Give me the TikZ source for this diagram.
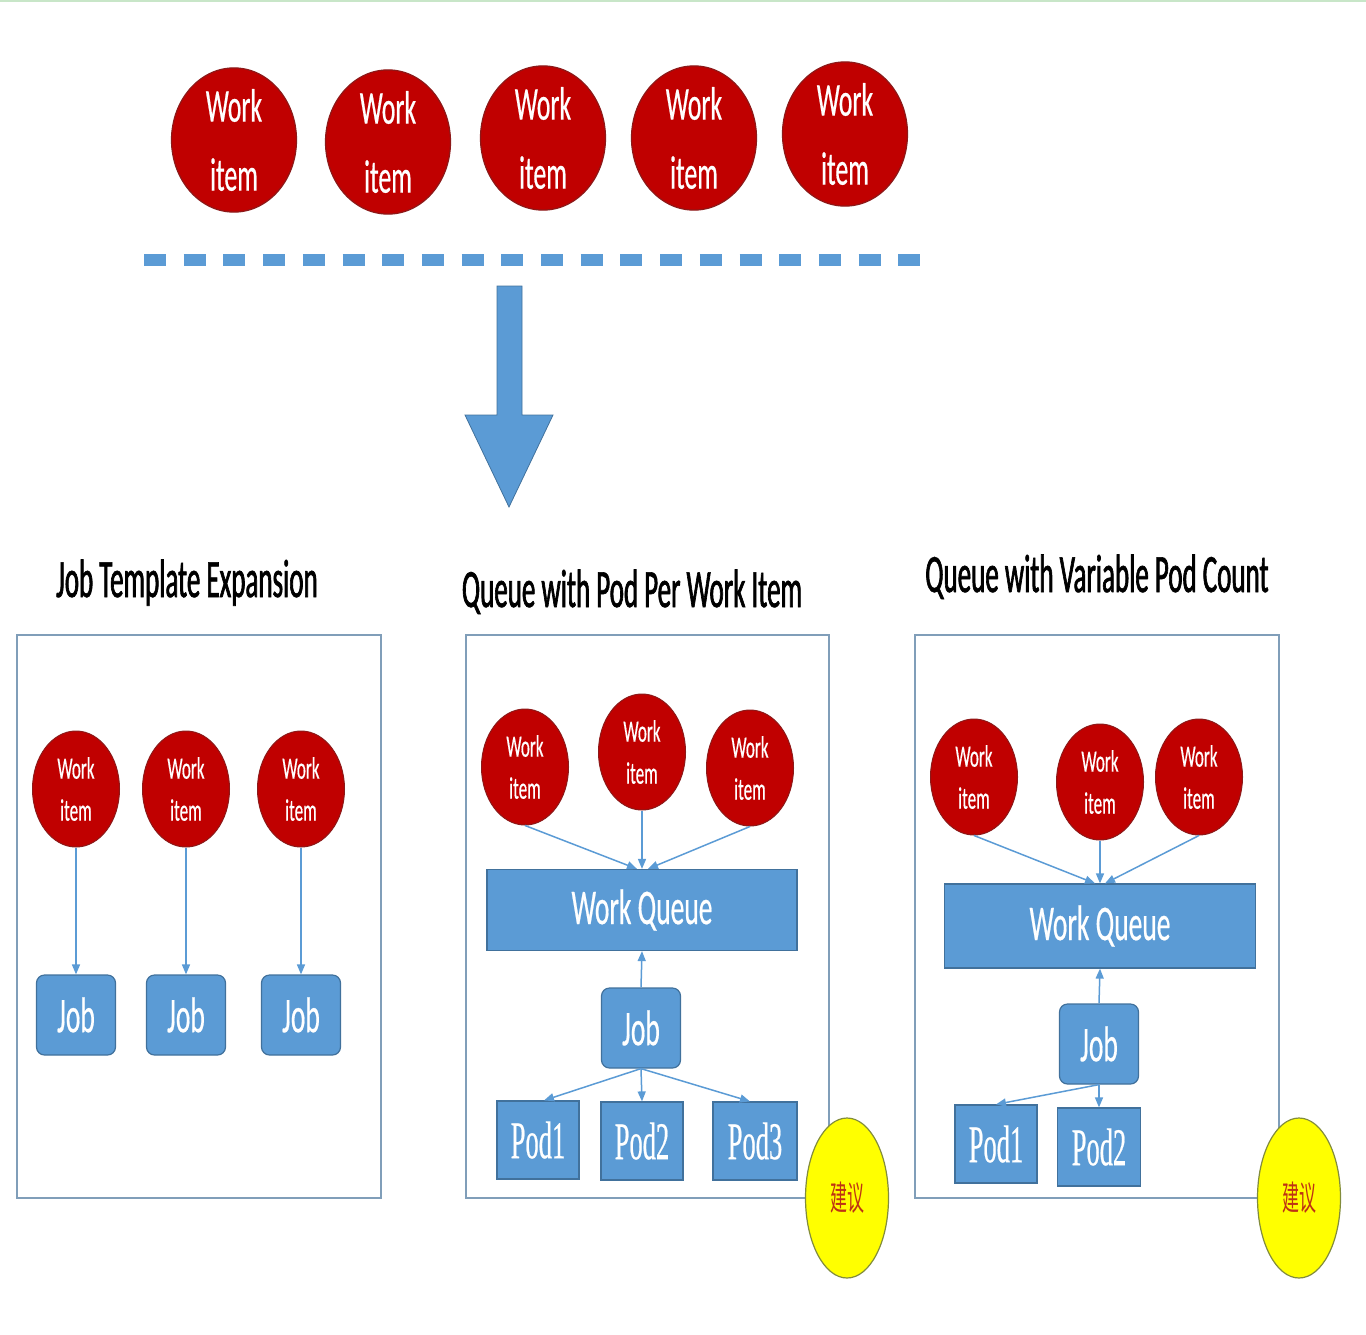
\documentclass[tikz,border=0pt]{standalone}
\usepackage{fontspec}
\setmainfont{Carlito}[FakeStretch=0.5]
\newfontfamily\titlefont{Carlito}[FakeStretch=0.5, FakeBold=1.2]
\newfontfamily\itemfont{Carlito}[FakeStretch=0.55, FakeBold=0.4]
\newfontfamily\podfont{Liberation Serif}[FakeStretch=0.5, FakeBold=0.4]
\newfontfamily\cjk{Noto Sans CJK SC}[FakeStretch=0.5]
\usetikzlibrary{shapes.geometric,arrows.meta}
\definecolor{itemred}{RGB}{192,0,0}
\definecolor{itemedge}{RGB}{140,25,25}
\definecolor{boxblue}{RGB}{91,155,213}
\definecolor{boxedge}{RGB}{65,113,156}
\definecolor{panelgray}{RGB}{128,158,185}
\definecolor{tipyellow}{RGB}{255,255,0}
\definecolor{tipedge}{RGB}{130,140,60}
\definecolor{tipred}{RGB}{190,50,20}
\definecolor{topgreen}{RGB}{200,230,200}
\begin{document}
\begin{tikzpicture}[x=1pt, y=-1pt,
  bigitem/.style={ellipse, draw=itemedge, line width=1.2pt, fill=itemred, text=white, inner sep=0pt,
    minimum width=125pt, minimum height=144pt, align=center, font=\itemfont\fontsize{47}{69}\selectfont},
  smallitem/.style={ellipse, draw=itemedge, line width=1pt, fill=itemred, text=white, inner sep=0pt,
    minimum width=87pt, minimum height=116pt, align=center, font=\itemfont\fontsize{31}{42}\selectfont},
  jobbox/.style={rectangle, rounded corners=8pt, draw=boxedge, line width=1.2pt, fill=boxblue, text=white,
    minimum width=79pt, minimum height=80pt, inner sep=0pt, font=\itemfont\fontsize{50}{60}\selectfont},
  queue/.style={rectangle, draw=boxedge, line width=1.2pt, fill=boxblue, text=white,
    minimum width=310pt, minimum height=81pt, inner sep=0pt, font=\itemfont\fontsize{50}{60}\selectfont},
  podbox/.style={rectangle, draw=boxedge, line width=1.2pt, fill=boxblue, text=white,
    minimum width=83pt, minimum height=78pt, inner sep=0pt, font=\podfont\fontsize{53}{60}\selectfont},
  tip/.style={ellipse, draw=tipedge, line width=1.2pt, fill=tipyellow, text=tipred, inner sep=0pt,
    minimum width=83pt, minimum height=160pt, font=\cjk\fontsize{34}{40}\selectfont},
  title/.style={anchor=base, font=\titlefont\fontsize{54}{60}\selectfont},
  panel/.style={draw=panelgray, line width=1.8pt},
  link/.style={draw=boxblue, line width=1.5pt, -{Triangle[length=10pt,width=8pt]}}]
\useasboundingbox (0,0) rectangle (1366,1334);
\draw [topgreen, line width=2pt] (0,1) -- (1366,1);

% top row of work items
\foreach \x/\y [count=\i] in {234/140, 388/142, 543/138, 694/138, 845/134}
  \node [bigitem] (top\i) at (\x,\y) {Work\\item};
\draw [boxblue, line width=12pt, dash pattern=on 22pt off 17.7pt] (144,260) -- (920,260);
\draw [fill=boxblue, draw=boxedge, line width=0.8pt]
  (497,286) -- (522,286) -- (522,415) -- (553,415) -- (509,507) -- (465,415) -- (497,415) -- cycle;

% titles and panels
\node [title] (t1) at (187,597) {Job Template Expansion};
\node [title] (t2) at (632,607) {Queue with Pod Per Work Item};
\node [title] (t3) at (1097,592) {Queue with Variable Pod Count};
\draw [panel] (17,635) rectangle (381,1198);
\draw [panel] (466,635) rectangle (829,1198);
\draw [panel] (915,635) rectangle (1279,1198);

% job template expansion
\foreach \x [count=\i] in {76, 186, 301} {
  \node [smallitem] (e\i) at (\x,789) {Work\\item};
  \node [jobbox] (je\i) at (\x,1015) {Job};
  \draw [link] (e\i.south) -- (je\i.north);
}

% queue with pod per work item
\node [smallitem] (a1) at (525,767) {Work\\item};
\node [smallitem] (a2) at (642,752) {Work\\item};
\node [smallitem] (a3) at (750,768) {Work\\item};
\node [queue] (qa) at (642,910) {Work Queue};
\node [jobbox] (ja) at (641,1028) {Job};
\node [podbox, minimum width=82pt] (pa1) at (538,1140) {Pod1};
\node [podbox, minimum width=82pt] (pa2) at (642,1141) {Pod2};
\node [podbox, minimum width=84pt] (pa3) at (755,1141) {Pod3};
\draw [link] (a1.south) -- ([xshift=-5pt]qa.north);
\draw [link] (a2.south) -- (qa.north);
\draw [link] (a3.south) -- ([xshift=6pt]qa.north);
\draw [link] (ja.north) -- (qa.south);
\draw [link] (ja.south) -- ([xshift=6pt]pa1.north);
\draw [link] (ja.south) -- (pa2.north);
\draw [link] (ja.south) -- ([xshift=-5pt]pa3.north);
\node [tip] (ta) at (847,1198) {建议};

% queue with variable pod count
\node [smallitem] (b1) at (974,777) {Work\\item};
\node [smallitem] (b2) at (1100,782) {Work\\item};
\node [smallitem] (b3) at (1199,777) {Work\\item};
\node [queue, minimum width=311pt, minimum height=84pt] (qb) at (1100,926) {Work Queue};
\node [jobbox] (jb) at (1099,1044) {Job};
\node [podbox, minimum width=82pt] (pb1) at (996,1144) {Pod1};
\node [podbox] (pb2) at (1099,1147) {Pod2};
\draw [link] (b1.south) -- ([xshift=-5pt]qb.north);
\draw [link] (b2.south) -- (qb.north);
\draw [link] (b3.south) -- ([xshift=5pt]qb.north);
\draw [link] (jb.north) -- (qb.south);
\draw [link] (jb.south) -- (pb1.north);
\draw [link] (jb.south) -- (pb2.north);
\node [tip] (tb) at (1299,1198) {建议};
\end{tikzpicture}
\end{document}
